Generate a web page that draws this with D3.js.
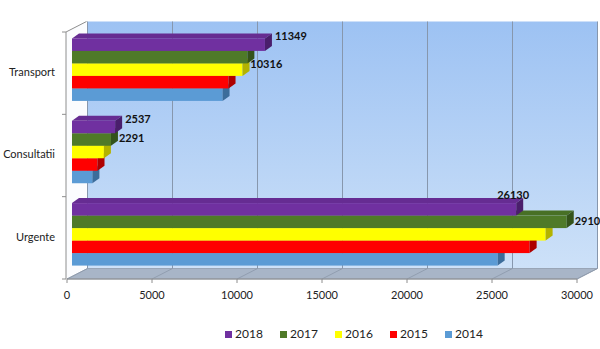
<!DOCTYPE html>
<html>
<head>
<meta charset="utf-8">
<script src="https://cdn.jsdelivr.net/npm/d3@7"></script>
<style>
  html, body { margin: 0; padding: 0; background: #fff; }
  svg { display: block; font-family: Lato, "Open Sans", sans-serif; }
</style>
</head>
<body>
<svg id="chart" width="600" height="349"></svg>
<script>
// Services per year, by category
const categories = ["Transport", "Consultatii", "Urgente"];
const years = ["2018", "2017", "2016", "2015", "2014"];
const values2018 = [11349, 2537, 26130];
const values2017 = [10316, 2291, 29102];
const values2016 = [10030, 1877, 27860];
const values2015 = [9208, 1500, 26920];
const values2014 = [8856, 1200, 25040];
const xTicks = [0, 5000, 10000, 15000, 20000, 25000, 30000];
const labelledYears = ["2018", "2017"];

const seriesValues = {
  "2018": values2018, "2017": values2017, "2016": values2016,
  "2015": values2015, "2014": values2014
};
const colors = {
  "2018": "#7030A0", "2017": "#4F7A28", "2016": "#FFFF00",
  "2015": "#FF0000", "2014": "#5B9BD5"
};
const sideColors = {
  "2018": "#4A1E6C", "2017": "#34531A", "2016": "#B3B300",
  "2015": "#AE0000", "2014": "#3C6D9B"
};

const svg = d3.select("#chart");

// front plane of the 3D box
const x = d3.scaleLinear().domain([0, 30000]).range([67, 577]);
const y = d3.scaleBand().domain(categories).range([32, 279]);
// depth of the box (front → back wall)
const depth = { dx: 20.5, dy: -10.5 };
// bars sit slightly behind the front plane
const barShift = { dx: 5, dy: -3.5 };
// depth of each bar
const barDepth = { dx: 7, dy: -5 };

const groupH = 62.5;
const yInner = d3.scaleBand().domain(years).range([0, groupH]);

const boxTop = y.range()[0], boxBottom = y.range()[1];
const xl = x.range()[0], xr = x.range()[1];

// gradient for the back wall
const defs = svg.append("defs");
const grad = defs.append("linearGradient").attr("id", "wall")
  .attr("x1", 0).attr("y1", 0).attr("x2", 0).attr("y2", 1);
grad.append("stop").attr("offset", "0%").attr("stop-color", "#9DC2F3");
grad.append("stop").attr("offset", "100%").attr("stop-color", "#CDE1F8");

const pts = a => a.map(p => p.join(",")).join(" ");

// back wall
svg.append("rect")
  .attr("x", xl + depth.dx).attr("y", boxTop + depth.dy)
  .attr("width", xr - xl).attr("height", boxBottom - boxTop)
  .attr("fill", "url(#wall)");

// left wall
svg.append("polygon")
  .attr("points", pts([[xl - 1, boxTop], [xl - 1 + depth.dx, boxTop + depth.dy],
    [xl - 1 + depth.dx, boxBottom + depth.dy], [xl - 1, boxBottom]]))
  .attr("fill", "#FBFCFE");
svg.append("polyline")
  .attr("points", pts([[xl - 1, boxBottom], [xl - 1, boxTop], [xl - 1 + depth.dx, boxTop + depth.dy]]))
  .attr("fill", "none").attr("stroke", "#8E8E8E").attr("stroke-width", 1);

// floor
svg.append("polygon")
  .attr("points", pts([[xl, boxBottom], [xr, boxBottom], [xr + depth.dx, boxBottom + depth.dy], [xl + depth.dx, boxBottom + depth.dy]]))
  .attr("fill", "#A8B5C7").attr("stroke", "#8D99AB").attr("stroke-width", 0.8);

// gridlines: back wall verticals and floor diagonals
xTicks.forEach(t => {
  const xf = x(t);
  svg.append("line")
    .attr("x1", xf + depth.dx).attr("x2", xf + depth.dx)
    .attr("y1", boxTop + depth.dy).attr("y2", boxBottom + depth.dy)
    .attr("stroke", "#8797AD").attr("stroke-width", 1);
  svg.append("line")
    .attr("x1", xf).attr("y1", boxBottom)
    .attr("x2", xf + depth.dx).attr("y2", boxBottom + depth.dy)
    .attr("stroke", "#8C98AA").attr("stroke-width", 0.8);
  svg.append("line")
    .attr("x1", xf).attr("x2", xf).attr("y1", boxBottom).attr("y2", boxBottom + 4)
    .attr("stroke", "#8E8E8E").attr("stroke-width", 1);
});
svg.append("line")
  .attr("x1", xl).attr("x2", xr).attr("y1", boxBottom).attr("y2", boxBottom)
  .attr("stroke", "#8E8E8E").attr("stroke-width", 1);

// category axis ticks on the left wall edge
const yEdges = categories.map(c => y(c)).concat([boxBottom]);
yEdges.forEach(v => {
  svg.append("line")
    .attr("x1", xl - 5).attr("x2", xl - 1).attr("y1", v).attr("y2", v)
    .attr("stroke", "#8E8E8E").attr("stroke-width", 1);
});

// x tick labels
svg.append("g").selectAll("text").data(xTicks).join("text")
  .attr("x", d => x(d)).attr("y", boxBottom + 17)
  .attr("text-anchor", "middle").attr("dominant-baseline", "middle")
  .attr("font-size", 11).attr("fill", "#222")
  .text(d => d);

// category labels
svg.append("g").selectAll("text").data(categories).join("text")
  .attr("x", 55).attr("y", d => y(d) + y.bandwidth() / 2)
  .attr("text-anchor", "end").attr("dominant-baseline", "middle")
  .attr("font-size", 11).attr("fill", "#222")
  .text(d => d);

// bars: bottom row first so the rows above cover their top faces
const barsG = svg.append("g");
const bars = [];
categories.forEach((cat, ci) => {
  const gTop = y(cat) + (y.bandwidth() - groupH) / 2 + barShift.dy;
  years.slice().reverse().forEach(yr => {
    bars.push({ cat, yr, v: seriesValues[yr][ci], yTop: gTop + yInner(yr) });
  });
});
const bx = v => x(v) + barShift.dx;
const bh = yInner.bandwidth();
bars.forEach(b => {
  const x0 = bx(0), xe = bx(b.v), y0 = b.yTop;
  const g = barsG.append("g");
  g.append("polygon")
    .attr("points", pts([[x0, y0], [xe, y0], [xe + barDepth.dx, y0 + barDepth.dy], [x0 + barDepth.dx, y0 + barDepth.dy]]))
    .attr("fill", d3.color(colors[b.yr]).darker(0.25));
  g.append("rect")
    .attr("x", x0).attr("y", y0).attr("width", xe - x0).attr("height", bh)
    .attr("fill", colors[b.yr]);
  g.append("polygon")
    .attr("points", pts([[xe, y0], [xe + barDepth.dx, y0 + barDepth.dy],
      [xe + barDepth.dx, y0 + bh + barDepth.dy], [xe, y0 + bh]]))
    .attr("fill", sideColors[b.yr]);
});

// value labels for the two latest years
const labelNudge = {
  "Transport|2017": [-5, 8.5],
  "Urgente|2018": [-29, -6]
};
bars.filter(b => labelledYears.includes(b.yr)).forEach(b => {
  const key = b.cat + "|" + b.yr;
  const n = labelNudge[key] || [0, 0];
  let lx, ly;
  if (b.yr === "2018") { lx = bx(b.v) + 10; ly = b.yTop - 1; }
  else { lx = bx(b.v) + 8; ly = b.yTop + bh / 2; }
  svg.append("text")
    .attr("x", lx + n[0]).attr("y", ly + n[1])
    .attr("dominant-baseline", "middle")
    .attr("font-size", 11).attr("font-weight", "bold").attr("fill", "#111")
    .text(b.v);
});

// legend
const legend = svg.append("g");
const legX = d3.scalePoint().domain(years).range([225, 445]);
years.forEach(yr => {
  legend.append("rect")
    .attr("x", legX(yr)).attr("y", 331).attr("width", 7).attr("height", 7)
    .attr("fill", colors[yr]);
  legend.append("text")
    .attr("x", legX(yr) + 10).attr("y", 335)
    .attr("dominant-baseline", "middle")
    .attr("font-size", 12).attr("fill", "#222")
    .text(yr);
});
</script>
</body>
</html>
